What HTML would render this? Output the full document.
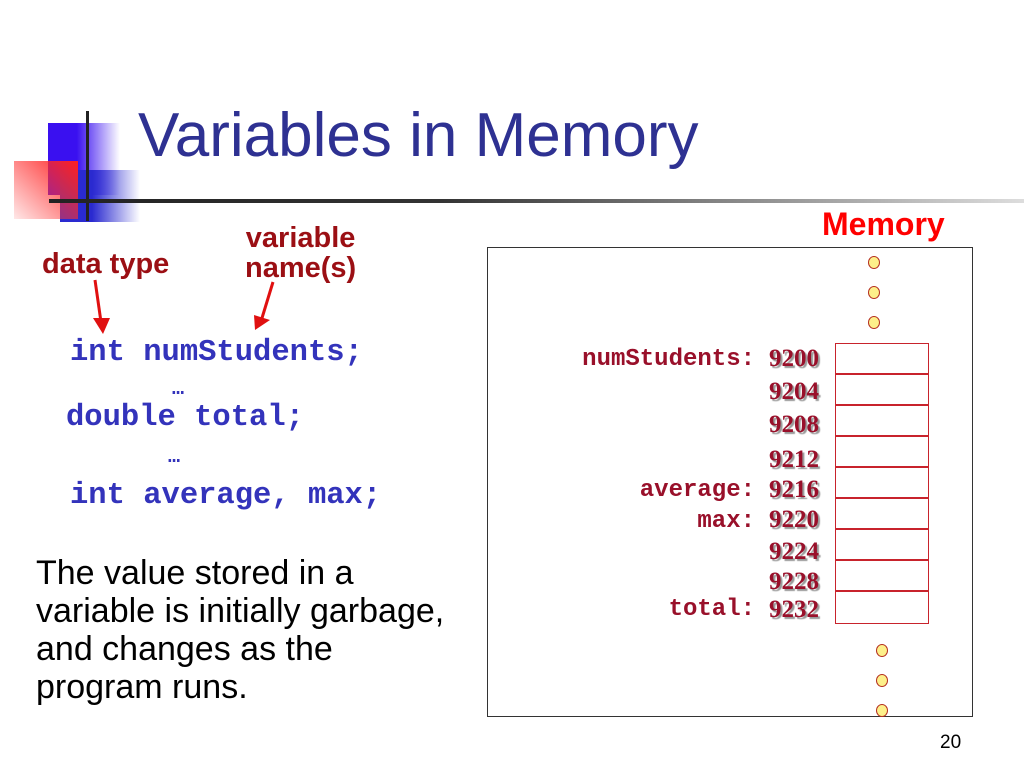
<!DOCTYPE html>
<html><head><meta charset="utf-8"><style>
body{margin:0;width:1024px;height:768px;background:#fff;position:relative;overflow:hidden;font-family:"Liberation Sans",sans-serif}
.a{position:absolute;white-space:nowrap}
.code{font-family:"Liberation Mono",monospace;font-weight:bold;color:#3333bb;font-size:26px}
.lbl{font-family:"Liberation Mono",monospace;font-weight:bold;color:#99102a;font-size:24px;text-align:right;width:200px}
.num{font-family:"Liberation Serif",serif;font-weight:bold;color:#99102a;font-size:25px;text-shadow:2px 2px 1px #999}
.cell{position:absolute;left:835px;width:94px;height:31px;border:1px solid #c8232c;box-sizing:border-box}
.dot{position:absolute;width:12px;height:13px;border:1.5px solid #b5301f;background:#fdf08a;border-radius:50%;box-sizing:border-box}
</style></head><body>
<div class="a" style="left:48px;top:123px;width:72px;height:72px;background:linear-gradient(90deg,#3a10f0 40%,rgba(60,30,240,0))"></div>
<div class="a" style="left:60px;top:170px;width:80px;height:52px;background:linear-gradient(90deg,#2a2ad0 40%,rgba(40,40,210,0))"></div>
<div class="a" style="left:14px;top:161px;width:64px;height:58px;background:linear-gradient(225deg,#ff2020,rgba(255,140,140,0.2))"></div>
<div class="a" style="left:86px;top:111px;width:3px;height:110px;background:#222"></div>
<div class="a" style="left:49px;top:199px;width:975px;height:4px;background:linear-gradient(90deg,#222,#333 40%,#ddd)"></div>
<div class="a" style="left:138px;top:100px;font-size:62px;color:#2e3192">Variables in Memory</div>
<div class="a" style="left:42px;top:248px;font-size:29px;font-weight:bold;color:#9b0f14">data type</div>
<div class="a" style="left:245px;top:223px;font-size:29px;font-weight:bold;color:#9b0f14;text-align:center;line-height:30px">variable<br>name(s)</div>
<svg class="a" style="left:0;top:0" width="400" height="360">
<line x1="95" y1="280" x2="101" y2="322" stroke="#e01010" stroke-width="3"/>
<polygon points="93,318 110,318 103,334" fill="#e01010"/>
<line x1="273" y1="282" x2="262" y2="318" stroke="#e01010" stroke-width="3"/>
<polygon points="254,315 270,320 255,330" fill="#e01010"/>
</svg>
<div class="a code" style="left:70px;top:336px;font-size:30.5px">int numStudents;</div>
<div class="a code" style="left:172px;top:378px;font-size:20px">…</div>
<div class="a code" style="left:66px;top:401px;font-size:30.5px">double total;</div>
<div class="a code" style="left:168px;top:446px;font-size:20px">…</div>
<div class="a code" style="left:70px;top:479px;font-size:30.5px">int average, max;</div>
<div class="a" style="left:36px;top:554px;font-size:34px;line-height:38px;color:#000">The value stored in a<br>variable is initially garbage,<br>and changes as the<br>program runs.</div>
<div class="a" style="left:822px;top:206px;font-size:32px;font-weight:bold;color:#f00">Memory</div>
<div class="a" style="left:487px;top:247px;width:486px;height:470px;border:1px solid #333;box-sizing:border-box"></div>
<div class="dot" style="left:868px;top:256px"></div>
<div class="dot" style="left:868px;top:286px"></div>
<div class="dot" style="left:868px;top:316px"></div>
<div class="dot" style="left:876px;top:644px"></div>
<div class="dot" style="left:876px;top:674px"></div>
<div class="dot" style="left:876px;top:704px"></div>
<div class="cell" style="top:343px"></div><div class="cell" style="top:374px"></div><div class="cell" style="top:405px"></div>
<div class="cell" style="top:436px"></div><div class="cell" style="top:467px"></div><div class="cell" style="top:498px"></div>
<div class="cell" style="top:529px"></div><div class="cell" style="top:560px"></div><div class="cell" style="top:591px;height:33px"></div>
<div class="a lbl" style="left:555px;top:346px">numStudents:</div>
<div class="a lbl" style="left:555px;top:477px">average:</div>
<div class="a lbl" style="left:555px;top:508px">max:</div>
<div class="a lbl" style="left:555px;top:596px">total:</div>
<div class="a num" style="left:769px;top:345px">9200</div>
<div class="a num" style="left:769px;top:378px">9204</div>
<div class="a num" style="left:769px;top:411px">9208</div>
<div class="a num" style="left:769px;top:446px">9212</div>
<div class="a num" style="left:769px;top:476px">9216</div>
<div class="a num" style="left:769px;top:506px">9220</div>
<div class="a num" style="left:769px;top:538px">9224</div>
<div class="a num" style="left:769px;top:568px">9228</div>
<div class="a num" style="left:769px;top:596px">9232</div>
<div class="a" style="left:940px;top:732px;font-size:19px;color:#000">20</div>
</body></html>
